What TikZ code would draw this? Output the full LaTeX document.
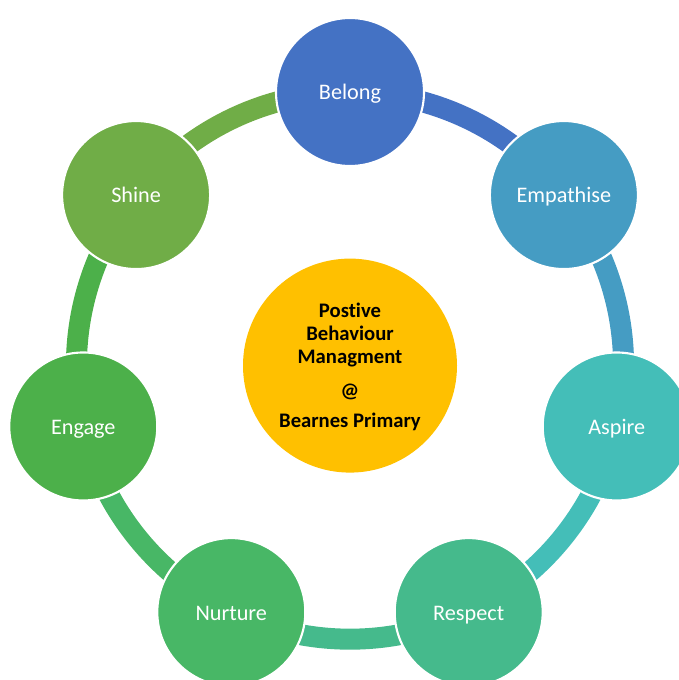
\documentclass[tikz,border=0pt]{standalone}
\usepackage{fontspec}
\setmainfont[Ligatures=NoCommon]{Carlito}
\usetikzlibrary{calc, backgrounds}

\definecolor{belongc}{HTML}{4472C4}
\definecolor{empathc}{HTML}{459CC3}
\definecolor{aspirec}{HTML}{44BEB8}
\definecolor{respectc}{HTML}{45BA8C}
\definecolor{nurturec}{HTML}{48B766}
\definecolor{engagec}{HTML}{4CB04A}
\definecolor{shinec}{HTML}{70AD47}
\definecolor{hubc}{HTML}{FFC000}

\begin{document}
\begin{tikzpicture}[
        spot/.style={circle, fill=#1, draw=white, line width=1.5pt, minimum size=3.7cm, inner sep=0pt, text=white, text height=14.3pt, text depth=3pt, font=\fontsize{15.8}{19}\selectfont},
        link/.style={line width=0.525cm, draw=#1}]
    \useasboundingbox (0, 0) rectangle (16.975, -17);
    \clip (0, 0) rectangle (16.975, -17);
    \coordinate (hub) at (8.75, -9.14);

    % the seven values round the ring
    \node[spot=belongc] (belong) at ($(hub)+(90:6.84)$) {Belong};
    \node[spot=empathc] (empath) at ($(hub)+(38.571:6.84)$) {Empathise};
    \node[spot=aspirec] (aspire) at ($(hub)+(-12.857:6.84)$) {Aspire};
    \node[spot=respectc] (respect) at ($(hub)+(-64.286:6.84)$) {Respect};
    \node[spot=nurturec] (nurture) at ($(hub)+(-115.714:6.84)$) {Nurture};
    \node[spot=engagec] (engage) at ($(hub)+(-167.143:6.84)$) {Engage};
    \node[spot=shinec] (shine) at ($(hub)+(141.429:6.84)$) {Shine};

    % ring pieces, behind the circles
    \begin{scope}[on background layer]
        \draw[link=belongc] (belong.center) arc[start angle=90, end angle=38.571, radius=6.84];
        \draw[link=empathc] (empath.center) arc[start angle=38.571, end angle=-12.857, radius=6.84];
        \draw[link=aspirec] (aspire.center) arc[start angle=-12.857, end angle=-64.286, radius=6.84];
        \draw[link=respectc] (respect.center) arc[start angle=-64.286, end angle=-115.714, radius=6.84];
        \draw[link=nurturec] (nurture.center) arc[start angle=-115.714, end angle=-167.143, radius=6.84];
        \draw[link=engagec] (engage.center) arc[start angle=192.857, end angle=141.429, radius=6.84];
        \draw[link=shinec] (shine.center) arc[start angle=141.429, end angle=90, radius=6.84];
    \end{scope}

    \node[circle, fill=hubc, minimum size=5.35cm, inner sep=0pt, align=center, text depth=0pt, font=\bfseries\fontsize{14.7}{16.3}\selectfont] (core) at (hub)
        {Postive\\Behaviour\\Managment\\[8pt]@\\[5pt]Bearnes Primary};
\end{tikzpicture}
\end{document}
